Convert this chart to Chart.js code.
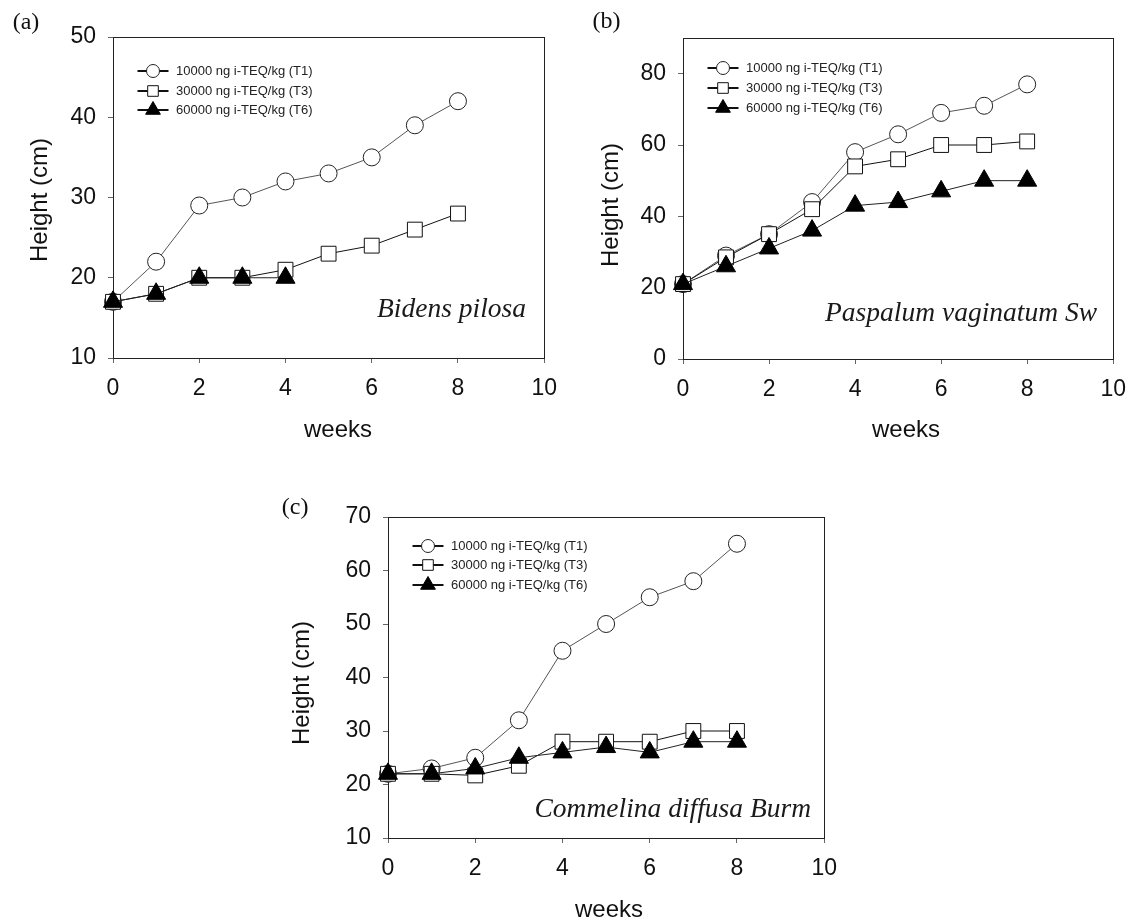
<!DOCTYPE html>
<html><head><meta charset="utf-8">
<script src="https://cdn.jsdelivr.net/npm/chart.js"></script>
<style>
html,body{margin:0;padding:0;background:#fff;overflow:hidden;width:1138px;height:921px;}
canvas{position:absolute;}
</style></head>
<body>
<canvas id="ca" width="569" height="450" style="left:0px;top:0px"></canvas>
<canvas id="cb" width="569" height="450" style="left:569px;top:0px"></canvas>
<canvas id="cc" width="569" height="460" style="left:280px;top:470px"></canvas>
<script>
// ---- data ----
const weeks = [0, 1, 2, 3, 4, 5, 6, 7, 8];
const seriesNames = ['10000 ng i-TEQ/kg (T1)', '30000 ng i-TEQ/kg (T3)', '60000 ng i-TEQ/kg (T6)'];
const panelLabels = ['(a)', '(b)', '(c)'];
const speciesNames = ['Bidens pilosa', 'Paspalum vaginatum Sw', 'Commelina diffusa Burm'];
const xTitle = 'weeks';
const yTitle = 'Height (cm)';

const bidensT1 = [17, 22, 29, 30, 32, 33, 35, 39, 42];
const bidensT3 = [17, 18, 20, 20, 21, 23, 24, 26, 28];
const bidensT6 = [17, 18, 20, 20, 20, null, null, null, null];

const paspalumT1 = [21, 29, 35, 44, 58, 63, 69, 71, 77];
const paspalumT3 = [21, 28.5, 35, 42, 54, 56, 60, 60, 61];
const paspalumT6 = [21, 26, 31, 36, 43, 44, 47, 50, 50];

const commelinaT1 = [22, 23, 25, 32, 45, 50, 55, 58, 65];
const commelinaT3 = [22, 22, 21.7, 23.5, 28, 28, 28, 30, 30];
const commelinaT6 = [22, 22, 23, 25, 26, 27, 26, 28, 28];

const xTicks = [0, 2, 4, 6, 8, 10];
const yTicksA = [10, 20, 30, 40, 50];
const yTicksB = [0, 20, 40, 60, 80];
const yTicksC = [10, 20, 30, 40, 50, 60, 70];

// ---- helpers ----
const SANS = "'Liberation Sans', Arial, sans-serif";
const SERIF = "'Liberation Serif', 'Times New Roman', serif";

function toXY(vals) {
  return weeks.map((w, i) => ({x: w, y: vals[i]})).filter(p => p.y !== null);
}

function mark(ctx, style, x, y, r, fill, stroke) {
  ctx.beginPath();
  if (style === 'circle') {
    ctx.arc(x, y, r, 0, Math.PI * 2);
  } else if (style === 'rect') {
    const s = r * Math.SQRT1_2;
    ctx.rect(x - s, y - s, 2 * s, 2 * s);
  } else {
    let a = 0;
    ctx.moveTo(x + Math.sin(a) * r, y - Math.cos(a) * r);
    a += 2 * Math.PI / 3;
    ctx.lineTo(x + Math.sin(a) * r, y - Math.cos(a) * r);
    a += 2 * Math.PI / 3;
    ctx.lineTo(x + Math.sin(a) * r, y - Math.cos(a) * r);
    ctx.closePath();
  }
  ctx.fillStyle = fill;
  ctx.fill();
  ctx.lineWidth = 1;
  ctx.strokeStyle = stroke;
  ctx.stroke();
}

const deco = {
  id: 'deco',
  beforeDatasetsDraw(chart, args, o) {
    const {ctx, chartArea: a} = chart;
    ctx.save();
    ctx.strokeStyle = '#222';
    ctx.lineWidth = 1;
    const l = Math.round(a.left) + 0.5, t = Math.round(a.top) + 0.5;
    const r = Math.round(a.right) + 0.5, b = Math.round(a.bottom) + 0.5;
    ctx.strokeRect(l, t, r - l, b - t);
    ctx.restore();
  },
  afterDraw(chart, args, o) {
    const {ctx, chartArea: a} = chart;
    ctx.save();
    // axis titles
    ctx.fillStyle = '#111';
    ctx.font = '24px ' + SANS;
    ctx.textAlign = 'center';
    ctx.textBaseline = 'alphabetic';
    ctx.fillText(xTitle, o.xtX, o.xtY);
    ctx.save();
    ctx.translate(o.ytX, o.ytY);
    ctx.rotate(-Math.PI / 2);
    ctx.textBaseline = 'middle';
    ctx.fillText(yTitle, 0, 0);
    ctx.restore();
    // legend
    const legStyles = [
      {style: 'circle', r: 6.5, fill: '#fff', stroke: '#222'},
      {style: 'rect', r: 7.5, fill: '#fff', stroke: '#111'},
      {style: 'triangle', r: 8.5, fill: '#000', stroke: '#000'}
    ];
    chart.data.datasets.forEach((ds, i) => {
      const y = Math.round(a.top + o.rows[i]);
      ctx.beginPath();
      ctx.strokeStyle = '#111';
      ctx.lineWidth = 2;
      ctx.moveTo(a.left + 24.5, y);
      ctx.lineTo(a.left + 55.5, y);
      ctx.stroke();
      const s = legStyles[i];
      mark(ctx, s.style, a.left + 40, y, s.r, s.fill, s.stroke);
      ctx.fillStyle = '#222';
      ctx.font = '13px ' + SANS;
      ctx.textAlign = 'left';
      ctx.textBaseline = 'middle';
      ctx.fillText(ds.label, a.left + 63, y + 0.5);
    });
    // species name
    ctx.fillStyle = '#1a1a1a';
    ctx.font = 'italic 27.5px ' + SERIF;
    ctx.textAlign = 'right';
    ctx.textBaseline = 'alphabetic';
    ctx.fillText(o.species, o.spX, o.spY);
    // panel label
    ctx.fillStyle = '#111';
    ctx.font = '24px ' + SERIF;
    ctx.textAlign = 'left';
    ctx.fillText(o.panel, o.pX, o.pY);
    ctx.restore();
  }
};

function makeChart(id, c) {
  const datasets = [
    {label: seriesNames[0], data: toXY(c.t1), pointStyle: 'circle', pointRadius: 8.5,
     borderColor: '#555', borderWidth: 1, pointBorderColor: '#222', pointBackgroundColor: '#fff',
     pointBorderWidth: 1, order: 3, clip: false, tension: 0},
    {label: seriesNames[1], data: toXY(c.t3), pointStyle: 'rect', pointRadius: 10.5,
     borderColor: '#111', borderWidth: 1, pointBorderColor: '#111', pointBackgroundColor: '#fff',
     pointBorderWidth: 1, order: 2, clip: false, tension: 0},
    {label: seriesNames[2], data: toXY(c.t6), pointStyle: 'triangle', pointRadius: 11,
     borderColor: '#222', borderWidth: 1, pointBorderColor: '#000', pointBackgroundColor: '#000',
     pointBorderWidth: 1, order: 1, clip: false, tension: 0}
  ];
  return new Chart(document.getElementById(id), {
    type: 'line',
    data: {datasets},
    plugins: [deco],
    options: {
      responsive: false,
      animation: false,
      devicePixelRatio: 1,
      layout: {padding: {left: 0, top: c.top, right: c.right, bottom: 0}},
      plugins: {
        legend: {display: false},
        tooltip: {enabled: false},
        deco: {rows: c.rows, species: c.species, spX: c.spX, spY: c.spY, panel: c.panel, pX: c.pX, pY: c.pY,
               xtX: c.xtX, xtY: c.xtY, ytX: c.ytX, ytY: c.ytY}
      },
      scales: {
        x: {
          type: 'linear', min: 0, max: 10,
          afterBuildTicks: s => { s.ticks = xTicks.map(v => ({value: v})); },
          afterFit: s => { s.height = c.xh; },
          border: {display: false},
          grid: {drawOnChartArea: false, drawTicks: true, tickLength: 5, color: '#666'},
          ticks: {padding: 12, color: '#111', font: {family: SANS, size: 23}, maxRotation: 0, autoSkip: false},
          title: {display: false}
        },
        y: {
          type: 'linear', min: c.ymin, max: c.ymax,
          afterBuildTicks: s => { s.ticks = c.yticks.map(v => ({value: v})); },
          afterFit: s => { s.width = c.yw; },
          border: {display: false},
          grid: {drawOnChartArea: false, drawTicks: true, tickLength: 5, color: '#666'},
          ticks: {padding: 12, color: '#111', font: {family: SANS, size: 23}, autoSkip: false},
          title: {display: false}
        }
      }
    }
  });
}

makeChart('ca', {
  t1: bidensT1, t3: bidensT3, t6: bidensT6,
  ymin: 10, ymax: 50, yticks: yTicksA,
  top: 37, right: 17, xh: 92, yw: 113,
  rows: [34, 54, 73],
  species: speciesNames[0], spX: 526, spY: 317,
  panel: panelLabels[0], pX: 12.7, pY: 29,
  xtX: 338, xtY: 437, ytX: 40.4, ytY: 200
});
makeChart('cb', {
  t1: paspalumT1, t3: paspalumT3, t6: paspalumT6,
  ymin: 0, ymax: 90, yticks: yTicksB,
  top: 38, right: 17, xh: 91, yw: 114,
  rows: [30, 50, 70],
  species: speciesNames[1], spX: 528, spY: 320.5,
  panel: panelLabels[1], pX: 23.5, pY: 27.5,
  xtX: 337, xtY: 437, ytX: 42.2, ytY: 205
});
makeChart('cc', {
  t1: commelinaT1, t3: commelinaT3, t6: commelinaT6,
  ymin: 10, ymax: 70, yticks: yTicksC,
  top: 47, right: 22, xh: 92, yw: 108,
  rows: [29, 48, 68],
  species: speciesNames[2], spX: 531, spY: 346.7,
  panel: panelLabels[2], pX: 1.8, pY: 44,
  xtX: 329, xtY: 447, ytX: 22.5, ytY: 213
});
</script>
</body></html>
